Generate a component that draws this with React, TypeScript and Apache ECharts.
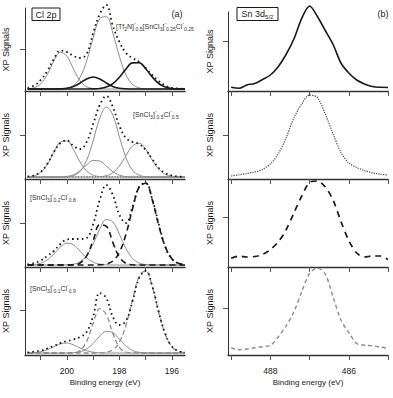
import React, { useEffect, useRef } from "react";
import * as echarts from "echarts";

// Cl 2p binding-energy grid (eV), shared by every Cl 2p trace
const clEnergy = [201.5, 201.25, 201, 200.75, 200.5, 200.25, 200, 199.75, 199.5, 199.25, 199, 198.75, 198.5, 198.25, 198, 197.75, 197.5, 197.25, 197, 196.75, 196.5, 196.25, 196, 195.75, 195.5];

// [Tf2N]-0.5[SnCl3]-0.25Cl-0.25
const cl1Data = [1, 3.5, 9, 18, 30, 38.5, 37, 33, 31, 35, 56, 75, 84, 63, 47, 36, 31, 27, 21, 14, 8, 3.5, 1, 0.5, 0];
const cl1SnCl3P12 = [0.2, 1.3, 5.2, 14.6, 28.1, 36.7, 32.7, 19.9, 8.2, 2.3, 0.5, 0.1, 0, 0, 0, 0, 0, 0, 0, 0, 0, 0, 0, 0, 0];
const cl1SnCl3P32 = [0, 0, 0, 0, 0, 0.2, 0.8, 3.6, 11.6, 28.1, 51.3, 70.3, 72.3, 55.9, 32.4, 14.1, 4.6, 1.1, 0.2, 0, 0, 0, 0, 0, 0];
const cl1ClP12 = [0, 0, 0, 0, 0, 0.2, 0.8, 2.5, 6.0, 10.1, 12, 10.1, 6.0, 2.5, 0.8, 0.2, 0, 0, 0, 0, 0, 0, 0, 0, 0];
const cl1ClP32 = [0, 0, 0, 0, 0, 0, 0, 0, 0, 0, 0.1, 0.5, 1.9, 5.3, 11.8, 19.9, 26.1, 26.2, 20.3, 12.1, 5.5, 1.9, 0.5, 0.1, 0];

// [SnCl3]-0.5Cl-0.5
const cl2Data = [0.5, 1.5, 5, 13, 25, 34, 36.5, 31, 28, 35, 53, 72, 81, 70, 51, 39, 35, 33, 27, 18, 9, 4, 1.5, 0.5, 0];
const cl2SnCl3P12 = [0.3, 1.3, 4.8, 12.8, 24.7, 35.0, 36.1, 27.2, 15.0, 6.0, 1.8, 0.4, 0.1, 0, 0, 0, 0, 0, 0, 0, 0, 0, 0, 0, 0];
const cl2SnCl3P32 = [0, 0, 0, 0, 0, 0, 0.3, 1.4, 5.6, 16.7, 36.4, 58.7, 69.9, 61.6, 40.1, 19.3, 6.8, 1.8, 0.4, 0, 0, 0, 0, 0, 0];
const cl2ClP12 = [0, 0, 0, 0, 0, 0.1, 0.6, 2.3, 6.3, 12.1, 16.5, 16.0, 10.9, 5.3, 1.8, 0.4, 0, 0, 0, 0, 0, 0, 0, 0, 0];
const cl2ClP32 = [0, 0, 0, 0, 0, 0, 0, 0, 0, 0, 0, 0.3, 1.3, 4.3, 11.1, 21.4, 31.0, 33.8, 27.7, 17.0, 7.8, 2.7, 0.7, 0.1, 0];
const cl2Background = [0, 0, 0, 0, 0, 0, 0, 0, 0, 0, 0, 0, 0, 0, 0, 0, 0, 0, 0, 0, 0, 0, 0, 0, 0];

// [SnCl3]-0.2Cl-0.8
const cl3Data = [0.5, 2, 4.5, 9, 14, 21, 25.5, 26, 26, 27, 41, 65, 80, 70, 50, 42, 58, 78, 82, 66, 41, 18, 6, 1.7, 0.3];
const cl3SnCl3P12 = [0.1, 0.5, 1.8, 5.1, 11.0, 17.9, 21.9, 20.1, 13.8, 7.2, 2.8, 0.8, 0.2, 0, 0, 0, 0, 0, 0, 0, 0, 0, 0, 0, 0];
const cl3SnCl3P32 = [0, 0, 0, 0, 0, 0, 0.2, 0.8, 3.2, 9.5, 21.3, 35.8, 45.3, 43.1, 30.7, 16.5, 6.6, 2.0, 0.5, 0.1, 0, 0, 0, 0, 0];
const cl3ClP12 = [0, 0, 0, 0, 0, 0, 0, 0.3, 2.0, 9.1, 24.6, 40.0, 38.7, 22.4, 7.8, 1.6, 0.2, 0, 0, 0, 0, 0, 0, 0, 0];
const cl3ClP32 = [0, 0, 0, 0, 0, 0, 0, 0, 0, 0, 0, 0.2, 1.0, 4.0, 12.8, 30.8, 56.2, 77.9, 81.8, 65.2, 39.5, 18.1, 6.3, 1.7, 0.3];

// [SnCl3]-0.1Cl-0.9
const cl4Data = [0.5, 1.5, 2.5, 4.5, 7, 10, 12, 13.5, 16, 21, 37, 60, 55, 36, 28, 32, 52, 75, 82, 67, 41, 19, 6.5, 2, 0.5];
const cl4SnCl3P12 = [0.1, 0.4, 1.3, 3.3, 6.3, 9.1, 10, 8.1, 5.0, 2.3, 0.8, 0.2, 0, 0, 0, 0, 0, 0, 0, 0, 0, 0, 0, 0, 0];
const cl4SnCl3P32 = [0, 0, 0, 0, 0, 0, 0, 0.3, 1.2, 4.1, 9.7, 17.0, 21.7, 20.3, 13.8, 6.9, 2.5, 0.7, 0.1, 0, 0, 0, 0, 0, 0];
const cl4ClP12 = [0, 0, 0, 0, 0, 0, 0, 0.3, 2.6, 11.6, 29.7, 44.3, 38.5, 19.4, 5.7, 1.0, 0.1, 0, 0, 0, 0, 0, 0, 0, 0];
const cl4ClP32 = [0, 0, 0, 0, 0, 0, 0, 0, 0, 0, 0, 0.1, 0.7, 3.2, 11.0, 27.9, 53.3, 76.4, 82.3, 66.6, 40.5, 18.5, 6.3, 1.6, 0.3];

// Sn 3d5/2 binding-energy grid (eV)
const snEnergy = [489, 488.8, 488.6, 488.4, 488.2, 488, 487.8, 487.6, 487.4, 487.2, 487, 486.8, 486.6, 486.4, 486.2, 486, 485.8, 485.6, 485.4, 485.2, 485];
const sn1 = [3.7, 2.8, 6, 7.5, 11.5, 16, 24.3, 36.5, 52, 72.7, 85, 74.5, 60.5, 46.5, 28, 18, 11, 7, 4.5, 3.7, 3.5];
const sn2 = [3, 4.2, 5.5, 7, 9.5, 15, 25, 41, 61, 75, 84, 81.5, 65, 45, 26.5, 16, 11.5, 8.5, 6.2, 4.8, 4];
const sn3 = [8.7, 10.8, 10, 10.5, 12.5, 17.5, 25, 37, 54, 71, 84.5, 86, 80, 67, 45.5, 26.5, 14, 10, 11, 11, 7.5];
const sn4 = [7.3, 5.2, 6, 7.2, 8.3, 9.7, 18, 29, 43, 63.3, 81.5, 87, 81, 58, 35, 22.5, 11.5, 9.8, 9.3, 8, 6.7];

// Axis ticks and labels
const clTickValues = [201, 200, 199, 198, 197, 196];
const clLabelValues = [200, 198, 196];
const snTickValues = [489, 488, 487, 486, 485];
const snLabelValues = [488, 486];
const clSignalTick = [40, 42, 42, 43];
const snSignalTick = [50, 44, 50, 47];

const FONT = '"Liberation Sans", Arial, Helvetica, sans-serif';
const INK = "#1a1a1a";
const AXIS = "#333";
const GRAY = "#8c8c8c";

const lineStyles: Record<string, any> = {
  dots: { color: INK, width: 1.8, type: [1.6, 3.2] },
  gray: { color: GRAY, width: 1, type: "solid" },
  black: { color: INK, width: 1.6, type: "solid" },
  blackDash: { color: INK, width: 1.6, type: [6, 4] },
  grayDash: { color: GRAY, width: 1.3, type: [5, 3] },
  fineDots: { color: INK, width: 1.1, type: [1.2, 1.6] },
  snSolid: { color: INK, width: 1.6, type: "solid" },
  snDotted: { color: "#444", width: 1.2, type: [1.2, 1.2] },
  snDash: { color: INK, width: 1.7, type: [6, 5] },
  snGrayDash: { color: GRAY, width: 1.4, type: [4, 3] },
};

const clPanels: [number[], string][][] = [
  [[cl1SnCl3P12, "gray"], [cl1SnCl3P32, "gray"], [cl1ClP12, "black"], [cl1ClP32, "black"], [cl1Data, "dots"]],
  [[cl2Background, "fineDots"], [cl2SnCl3P12, "gray"], [cl2SnCl3P32, "gray"], [cl2ClP12, "gray"], [cl2ClP32, "gray"], [cl2Data, "dots"]],
  [[cl3SnCl3P12, "gray"], [cl3SnCl3P32, "gray"], [cl3ClP12, "blackDash"], [cl3ClP32, "blackDash"], [cl3Data, "dots"]],
  [[cl4SnCl3P12, "gray"], [cl4SnCl3P32, "gray"], [cl4ClP12, "grayDash"], [cl4ClP32, "grayDash"], [cl4Data, "dots"]],
];
const snPanels: [number[], string][] = [
  [sn1, "snSolid"],
  [sn2, "snDotted"],
  [sn3, "snDash"],
  [sn4, "snGrayDash"],
];

const panelTop = [8, 91, 179, 267];
const panelBottom = [91, 179, 267, 355];
const snPanelTop = [12, 91, 179, 267];

const compositionLabels = [
  { x: 116, y: 26, text: "{n|[Tf}{b|2}{n|N]}{t|-}{b|0.5}{n|[SnCl}{b|3}{n|]}{t|-}{b|0.25}{n|Cl}{t|-}{b|0.25}" },
  { x: 133, y: 114, text: "{n|[SnCl}{b|3}{n|]}{t|-}{b|0.5}{n|Cl}{t|-}{b|0.5}" },
  { x: 30, y: 197, text: "{n|[SnCl}{b|3}{n|]}{t|-}{b|0.2}{n|Cl}{t|-}{b|0.8}" },
  { x: 30, y: 288, text: "{n|[SnCl}{b|3}{n|]}{t|-}{b|0.1}{n|Cl}{t|-}{b|0.9}" },
];

const richStyles = {
  n: { fontSize: 7, fontFamily: FONT, fill: "#333", lineHeight: 11, verticalAlign: "middle" },
  b: { fontSize: 5, fontFamily: FONT, fill: "#333", lineHeight: 6, verticalAlign: "bottom" },
  t: { fontSize: 5, fontFamily: FONT, fill: "#333", lineHeight: 6, verticalAlign: "top" },
};

function buildOption() {
  const grid: any[] = [];
  const xAxis: any[] = [];
  const yAxis: any[] = [];
  const series: any[] = [];

  const xLine = { show: true, onZero: false, lineStyle: { color: AXIS, width: 1.3 } };
  const yLine = { show: true, onZero: false, lineStyle: { color: AXIS, width: 1 } };
  const tickStyle = { color: "#555", width: 1 };
  const nameStyle = { fontSize: 9, fontFamily: FONT, color: INK };

  for (let i = 0; i < 4; i++) {
    const last = i === 3;
    // Cl 2p column
    const h = panelBottom[i] - panelTop[i];
    grid.push({ left: 25, top: panelTop[i], width: 160, height: h });
    xAxis.push({
      gridIndex: i, type: "value", min: 195.5, max: 201.6, inverse: true,
      axisLine: xLine, splitLine: { show: false },
      axisTick: { show: true, inside: false, length: 5, customValues: clTickValues, lineStyle: tickStyle },
      axisLabel: last
        ? { show: true, customValues: clLabelValues, fontSize: 8.5, fontFamily: FONT, color: INK, margin: 11 }
        : { show: false },
      name: last ? "Binding energy (eV)" : "", nameLocation: "middle", nameGap: 23,
      nameTextStyle: { fontSize: 8, fontFamily: FONT, color: INK },
    });
    yAxis.push({
      gridIndex: i, type: "value", min: -2, max: h - 2,
      axisLine: yLine, splitLine: { show: false },
      axisTick: { show: true, inside: false, length: 5, customValues: [clSignalTick[i]], lineStyle: tickStyle },
      axisLabel: { show: false },
      name: "XP Signals", nameLocation: "middle", nameGap: 15, nameTextStyle: nameStyle,
    });
    clPanels[i].forEach(([values, style], k) => {
      series.push({
        type: "line", xAxisIndex: i, yAxisIndex: i,
        data: clEnergy.map((e, j) => [e, values[j]]),
        showSymbol: false, symbol: "none", smooth: 0.4, clip: false, silent: true,
        lineStyle: lineStyles[style], z: 2 + k,
      });
    });
  }

  for (let i = 0; i < 4; i++) {
    const last = i === 3;
    const gi = 4 + i;
    const h = panelBottom[i] - snPanelTop[i];
    grid.push({ left: 228, top: snPanelTop[i], width: 160, height: h });
    xAxis.push({
      gridIndex: gi, type: "value", min: 485, max: 489.08, inverse: true,
      axisLine: xLine, splitLine: { show: false },
      axisTick: { show: true, inside: false, length: 5, customValues: snTickValues, lineStyle: tickStyle },
      axisLabel: last
        ? { show: true, customValues: snLabelValues, fontSize: 8.5, fontFamily: FONT, color: INK, margin: 11 }
        : { show: false },
      name: last ? "Binding energy (eV)" : "", nameLocation: "middle", nameGap: 23,
      nameTextStyle: { fontSize: 8, fontFamily: FONT, color: INK },
    });
    yAxis.push({
      gridIndex: gi, type: "value", min: 0, max: h,
      axisLine: yLine, splitLine: { show: false },
      axisTick: { show: true, inside: false, length: 5, customValues: [snSignalTick[i]], lineStyle: tickStyle },
      axisLabel: { show: false },
      name: "XP Signals", nameLocation: "middle", nameGap: 14, nameTextStyle: nameStyle,
    });
    const [values, style] = snPanels[i];
    series.push({
      type: "line", xAxisIndex: gi, yAxisIndex: gi,
      data: snEnergy.map((e, j) => [e, values[j]]),
      showSymbol: false, symbol: "none", smooth: 0.3, clip: false, silent: true,
      lineStyle: lineStyles[style], z: 2,
    });
  }

  const graphic: any[] = [
    { type: "rect", shape: { x: 32, y: 8, width: 28, height: 12.5 }, style: { fill: "#fff", stroke: INK, lineWidth: 1 }, z: 10 },
    { type: "text", x: 46, y: 14.5, z: 11, style: { text: "Cl 2p", fontSize: 9, fontFamily: FONT, fill: INK, align: "center", verticalAlign: "middle" } },
    { type: "text", x: 177, y: 14, z: 11, style: { text: "(a)", fontSize: 9, fontFamily: FONT, fill: INK, align: "center", verticalAlign: "middle" } },
    { type: "rect", shape: { x: 237, y: 7.5, width: 41, height: 13 }, style: { fill: "#fff", stroke: INK, lineWidth: 1 }, z: 10 },
    {
      type: "text", x: 257.5, y: 14, z: 11,
      style: {
        text: "{m|Sn 3d}{s|5/2}", align: "center", verticalAlign: "middle",
        rich: {
          m: { fontSize: 9, fontFamily: FONT, fill: INK, lineHeight: 12, verticalAlign: "middle" },
          s: { fontSize: 6, fontFamily: FONT, fill: INK, lineHeight: 7, verticalAlign: "bottom" },
        },
      },
    },
    { type: "text", x: 383, y: 14, z: 11, style: { text: "(b)", fontSize: 9, fontFamily: FONT, fill: INK, align: "center", verticalAlign: "middle" } },
    ...compositionLabels.map((l) => ({
      type: "text", x: l.x, y: l.y, z: 11,
      style: { text: l.text, align: "left", verticalAlign: "middle", rich: richStyles },
    })),
  ];

  return {
    animation: false,
    backgroundColor: "#fff",
    textStyle: { fontFamily: FONT },
    grid, xAxis, yAxis, series, graphic,
  };
}

export default function App() {
  const ref = useRef<HTMLDivElement>(null);
  useEffect(() => {
    if (!ref.current) return;
    const chart = echarts.init(ref.current, null, { renderer: "svg" });
    chart.setOption(buildOption() as any);
    return () => chart.dispose();
  }, []);
  return (
    <div
      ref={ref}
      style={{ position: "absolute", left: 0, top: 0, width: 393, height: 398, background: "#fff" }}
    />
  );
}
